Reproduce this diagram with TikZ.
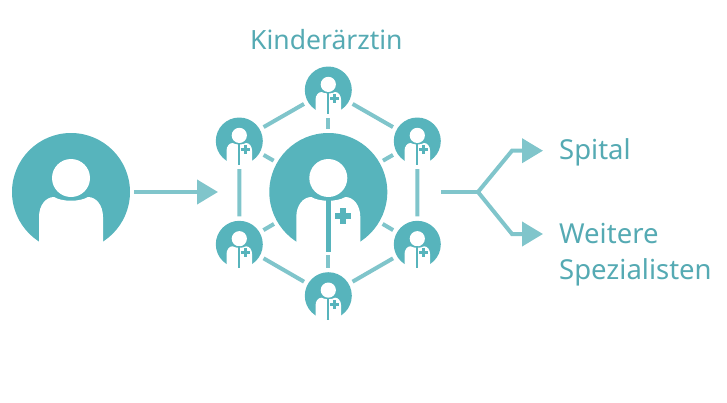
\documentclass[tikz,border=0pt]{standalone}
\usepackage{fontspec}
\setmainfont{Noto Sans}
\usetikzlibrary{arrows.meta,positioning}
\definecolor{icon}{HTML}{57B4BC}
\definecolor{link}{HTML}{80C5CB}
\definecolor{label}{HTML}{55AAB3}
\newcommand{\personshape}{
    \fill[white] (-32,60) -- (-32,25) .. controls (-32,13) and (-25,5) .. (-17,5)
        .. controls (-9,10) and (9,10) .. (17,5)
        .. controls (25,5) and (32,13) .. (32,25) -- (32,60) -- cycle;
    \fill[white] (0,-14) circle (19);
}
\tikzset{
    person/.pic={\personshape},
    doctor/.pic={
        \personshape
        \fill[icon] (-2.3,5) rectangle (2.3,60);
        \fill[icon] (6.5,20.5) rectangle (22.5,26.5);
        \fill[icon] (11.5,15.5) rectangle (17.5,31.5);
    },
    smalldoctor/.pic={
        \personshape
        \fill[icon] (-2.8,5) rectangle (2.8,60);
        \fill[icon] (5,17) rectangle (27,25);
        \fill[icon] (12,10) rectangle (20,32);
    }
}
\begin{document}
\begin{tikzpicture}[x=1pt, y=-1pt,
    bignode/.style={circle, fill=icon, minimum size=118pt, inner sep=0pt, outer sep=4pt},
    smallnode/.style={circle, fill=icon, minimum size=47pt, inner sep=0pt, outer sep=4.5pt},
    txt/.style={text=label, font=\fontsize{27.5}{36}\selectfont, inner sep=0pt, anchor=base west},
    linkline/.style={draw=link, line width=4pt},
    flow/.style={draw=link, line width=4pt, -{Triangle[length=21pt,width=24pt]}}
]
\useasboundingbox (0,0) rectangle (727,402);
\node[bignode] (patient) at (71,192) {};
\node[bignode] (center) at (328.3,192) {};
\node[smallnode] (top) at (328.3,90) {};
\node[smallnode] (ul) at (239.3,141) {};
\node[smallnode] (ur) at (417.3,141) {};
\node[smallnode] (ll) at (239.3,244.3) {};
\node[smallnode] (lr) at (417.3,244.3) {};
\node[smallnode] (bottom) at (328.3,295.7) {};
\pic at (patient) {person};
\pic at (center) {doctor};
\foreach \n in {top,ul,ur,ll,lr,bottom} {
    \pic[scale=0.4] at (\n) {smalldoctor};
}
\draw[linkline] (top)--(ur)--(lr)--(bottom)--(ll)--(ul)--(top);
\foreach \n in {top,ul,ur,ll,lr,bottom} {
    \draw[linkline] (\n)--(center);
}
\node[txt, font=\fontsize{26.5}{36}\selectfont] (kinder) at (250,49.5) {Kinderärztin};
\node[txt] (spital) at (559,159) {Spital};
\node[txt] (weitere) at (559,243) {Weitere};
\node[txt] (spez) at (559,279) {Spezialisten};
\coordinate (inEnd) at (218,192);
\coordinate (forkStart) at (441,192);
\coordinate (fork) at (478,192);
\coordinate (upBend) at (512,150.7);
\coordinate (upEnd) at (543,150.7);
\coordinate (downBend) at (512,234);
\coordinate (downEnd) at (543,234);
\draw[flow] (patient.east)--(inEnd);
\draw[linkline] (forkStart)--(fork);
\draw[flow] (fork)--(upBend)--(upEnd);
\draw[flow] (fork)--(downBend)--(downEnd);
\end{tikzpicture}
\end{document}
